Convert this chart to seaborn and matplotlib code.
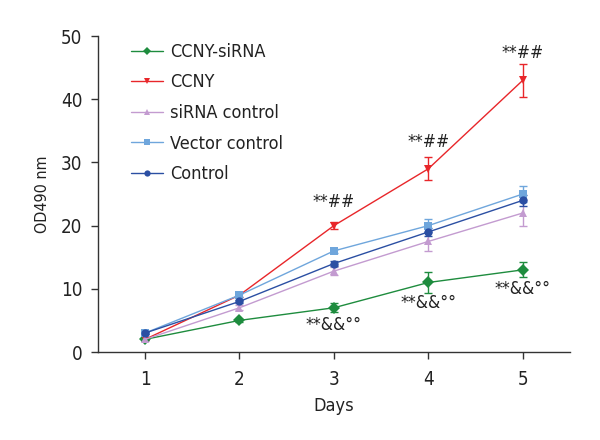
import numpy as np
import pandas as pd
import matplotlib
matplotlib.use("Agg")
import matplotlib.pyplot as plt
import seaborn as sns

sns.set_style("ticks")
plt.rcParams['font.family'] = ['DejaVu Sans']
plt.rcParams['font.stretch'] = 'condensed'

days = [1, 2, 3, 4, 5]
groups = ["CCNY-siRNA", "CCNY", "siRNA control", "Vector control", "Control"]
ccny_sirna = [2, 5, 7, 11, 13]
ccny_sirna_err = [0.1, 0.3, 0.7, 1.7, 1.2]
ccny = [2, 9, 20, 29, 43]
ccny_err = [0.1, 0.3, 0.6, 1.8, 2.6]
sirna_ctrl = [2, 7, 12.8, 17.5, 22]
sirna_ctrl_err = [0.3, 0.4, 0.6, 1.5, 2.1]
vector_ctrl = [3, 9, 16, 20, 25]
vector_ctrl_err = [0.2, 0.3, 0.3, 1.0, 1.2]
control = [3, 8, 14, 19, 24]
control_err = [0.2, 0.3, 0.4, 0.7, 0.9]

up_days = [3, 4, 5]
up_y = [23.8, 33.3, 47.3]
down_days = [3, 4, 5]
down_y = [4.3, 7.7, 10.0]

vals = [ccny_sirna, ccny, sirna_ctrl, vector_ctrl, control]
errs = [ccny_sirna_err, ccny_err, sirna_ctrl_err, vector_ctrl_err, control_err]
colors = ["#1e8c3e", "#e8262a", "#c39bd0", "#6fa6dc", "#2b4fa3"]
markers = ["D", "v", "^", "s", "o"]
msizes = [3.2, 6, 6, 6, 6]

df = pd.DataFrame({
    "Days": np.tile(days, len(groups)),
    "OD": np.concatenate(vals),
    "Group": np.repeat(groups, len(days)),
})

fig = plt.figure(figsize=(6, 4.4), dpi=100)
ax = fig.add_axes([0.163, 0.2, 0.787, 0.718])

for g, v, e, c in zip(groups, vals, errs, colors):
    ax.errorbar(days, v, yerr=e, fmt="none", ecolor=c, elinewidth=1, capsize=3, capthick=1, zorder=2)

sns.lineplot(data=df, x="Days", y="OD", hue="Group", style="Group",
             hue_order=groups, style_order=groups,
             palette=dict(zip(groups, colors)),
             markers=dict(zip(groups, markers)), dashes=False,
             linewidth=1, markeredgewidth=0, ax=ax, zorder=3)
for line in ax.get_lines():
    lab = line.get_label()
    if lab in groups:
        line.set_markersize(msizes[groups.index(lab)])

for d, y in zip(up_days, up_y):
    ax.text(d, y, "**##", ha="center", va="center", fontsize=12.5, color="#222222")
for d, y in zip(down_days, down_y):
    ax.text(d, y, "**&&°°", ha="center", va="center", fontsize=12.5, color="#222222")

ax.set_xlim(0.5, 5.5)
ax.set_ylim(0, 50)
ax.set_xticks(days)
ax.set_yticks([0, 10, 20, 30, 40, 50])
ax.tick_params(labelsize=13.5, length=5, width=1, colors="#333333", labelcolor="#222222")
ax.tick_params(axis="y", pad=6)
ax.tick_params(axis="x", pad=8)
ax.set_xlabel("Days", fontsize=13, color="#222222", labelpad=6)
ax.set_ylabel("OD490 nm", fontsize=11.5, color="#222222", labelpad=8)
for s in ["top", "right"]:
    ax.spines[s].set_visible(False)
for s in ["left", "bottom"]:
    ax.spines[s].set_color("#333333")
    ax.spines[s].set_linewidth(1)

h, l = ax.get_legend_handles_labels()
for hh in h:
    hh.set_markersize(4.5)
ax.legend(h, l, loc="upper left", bbox_to_anchor=(0.035, 1.03), frameon=False,
          fontsize=13, handlelength=1.8, labelspacing=0.7, handletextpad=0.4)
for t in ax.get_legend().get_texts():
    t.set_color("#222222")

fig.savefig("out.png", dpi=100)
